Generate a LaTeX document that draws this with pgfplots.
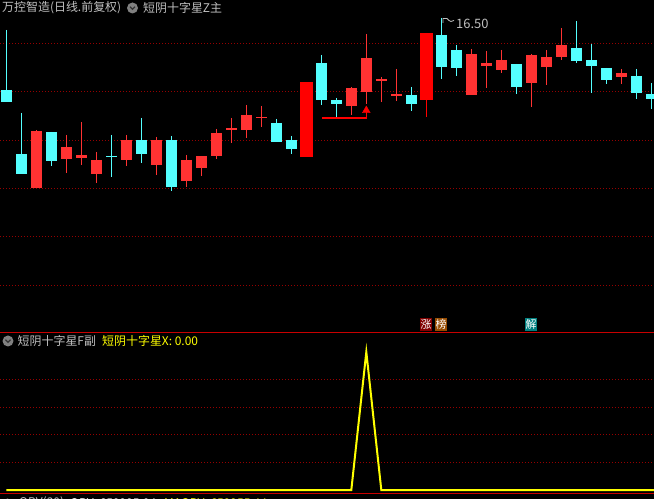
\documentclass[border=0pt]{standalone}
\usepackage{pgfplots}
\pgfplotsset{compat=1.18}
\usepackage{fontspec}
\newfontfamily\cjk{Noto Sans CJK SC}
\definecolor{upred}{RGB}{255,50,50}
\definecolor{limred}{RGB}{255,0,0}
\definecolor{dncyan}{RGB}{84,255,255}
\definecolor{gridred}{RGB}{150,0,0}
\definecolor{sepred}{RGB}{200,0,0}
\definecolor{txtgray}{RGB}{192,192,192}
\definecolor{iconbg}{RGB}{128,128,128}
\definecolor{tagred}{RGB}{128,0,0}
\definecolor{tagbrown}{RGB}{150,75,0}
\definecolor{tagteal}{RGB}{0,128,128}
\definecolor{sigyellow}{RGB}{255,255,0}
\begin{document}
\begin{tikzpicture}[x=1bp,y=1bp]
\fill[black] (0,0) rectangle (654,499);
% ---------------- main panel ----------------
\begin{axis}[at={(0bp,167bp)}, anchor=south west, scale only axis,
  width=654bp, height=332bp,
  xmin=-0.42, xmax=43.18, ymin=10.22, ymax=16.86,
  axis line style={draw=none}, tick style={draw=none}, xtick=\empty,
  ytick={11.15,12.12,13.09,14.05,15.02,15.99}, yticklabels={}, ymajorgrids,
  major grid style={draw=gridred, line width=1bp, dash pattern=on 1bp off 2bp},
  unbounded coords=jump, clip=true]
% cyan (down) wicks
\addplot[dncyan, line width=1bp] coordinates {
(0,16.26)(0,14.82)(0,nan)
(1,14.60)(1,13.38)(1,nan)
(3,14.22)(3,13.54)(3,nan)
(7,14.16)(7,13.32)(7,nan)
(9,14.50)(9,13.60)(9,nan)
(11,14.14)(11,13.04)(11,nan)
(18,14.48)(18,14.02)(18,nan)
(19,14.14)(19,13.78)(19,nan)
(21,15.76)(21,14.76)(21,nan)
(22,14.90)(22,14.50)(22,nan)
(27,15.12)(27,14.64)(27,nan)
(29,16.50)(29,15.28)(29,nan)
(30,15.96)(30,15.34)(30,nan)
(34,15.58)(34,14.98)(34,nan)
(38,16.44)(38,15.60)(38,nan)
(39,15.98)(39,15.00)(39,nan)
(40,15.50)(40,15.18)(40,nan)
(42,15.48)(42,14.88)(42,nan)
(43,15.20)(43,14.68)
};
% cyan bodies
\addplot[dncyan, line width=11bp] coordinates {
(0,15.06)(0,14.82)(0,nan)
(1,13.78)(1,13.38)(1,nan)
(3,14.22)(3,13.64)(3,nan)
(7,13.74)(7,13.72)(7,nan)
(9,14.06)(9,13.78)(9,nan)
(11,14.06)(11,13.12)(11,nan)
(18,14.40)(18,14.02)(18,nan)
(19,14.06)(19,13.88)(19,nan)
(21,15.60)(21,14.86)(21,nan)
(22,14.86)(22,14.78)(22,nan)
(27,14.96)(27,14.78)(27,nan)
(29,16.16)(29,15.52)(29,nan)
(30,15.86)(30,15.50)(30,nan)
(34,15.58)(34,15.12)(34,nan)
(38,15.90)(38,15.64)(38,nan)
(39,15.66)(39,15.54)(39,nan)
(40,15.50)(40,15.26)(40,nan)
(42,15.34)(42,15.00)(42,nan)
(43,14.98)(43,14.88)
};
% red (up) wicks
\addplot[upred, line width=1bp] coordinates {
(2,14.26)(2,13.10)(2,nan)
(4,14.16)(4,13.40)(4,nan)
(5,14.42)(5,13.56)(5,nan)
(6,13.82)(6,13.20)(6,nan)
(8,14.16)(8,13.54)(8,nan)
(10,14.12)(10,13.36)(10,nan)
(12,13.76)(12,13.12)(12,nan)
(13,13.74)(13,13.34)(13,nan)
(14,14.28)(14,13.68)(14,nan)
(15,14.50)(15,14.00)(15,nan)
(16,14.76)(16,14.10)(16,nan)
(17,14.74)(17,14.32)(17,nan)
(23,15.12)(23,14.56)(23,nan)
(24,16.18)(24,14.78)(24,nan)
(25,15.32)(25,14.82)(25,nan)
(26,15.48)(26,14.84)(26,nan)
(31,15.88)(31,14.96)(31,nan)
(32,15.84)(32,15.10)(32,nan)
(33,15.86)(33,15.40)(33,nan)
(35,15.78)(35,14.72)(35,nan)
(36,15.86)(36,15.16)(36,nan)
(37,16.30)(37,15.66)(37,nan)
(41,15.48)(41,15.18)
};
% red bodies
\addplot[upred, line width=11bp] coordinates {
(2,14.24)(2,13.10)(2,nan)
(4,13.92)(4,13.68)(4,nan)
(5,13.76)(5,13.70)(5,nan)
(6,13.66)(6,13.38)(6,nan)
(8,14.06)(8,13.66)(8,nan)
(10,14.06)(10,13.56)(10,nan)
(12,13.66)(12,13.24)(12,nan)
(13,13.74)(13,13.50)(13,nan)
(14,14.20)(14,13.74)(14,nan)
(15,14.30)(15,14.26)(15,nan)
(16,14.56)(16,14.26)(16,nan)
(17,14.52)(17,14.50)(17,nan)
(23,15.10)(23,14.74)(23,nan)
(24,15.70)(24,15.02)(24,nan)
(25,15.28)(25,15.24)(25,nan)
(26,14.98)(26,14.94)(26,nan)
(31,15.78)(31,14.96)(31,nan)
(32,15.60)(32,15.54)(32,nan)
(33,15.66)(33,15.46)(33,nan)
(35,15.76)(35,15.20)(35,nan)
(36,15.72)(36,15.52)(36,nan)
(37,15.96)(37,15.72)(37,nan)
(41,15.40)(41,15.32)
};
% limit-up candles
\addplot[limred, line width=1bp] coordinates {(28,16.20)(28,14.52)};
\addplot[limred, line width=13bp] coordinates {
(20,15.22)(20,13.72)(20,nan)
(28,16.20)(28,14.86)
};
% signal marker
\addplot[limred, line width=1.5bp] coordinates {(21.05,14.50)(24,14.50)(24,14.66)};
\addplot[limred, only marks, mark=triangle*, mark size=4.5bp] coordinates {(24,14.65)};
\end{axis}
% ---------------- sub panel ----------------
\begin{axis}[at={(0bp,6bp)}, anchor=south west, scale only axis,
  width=654bp, height=161bp,
  xmin=-0.42, xmax=43.18, ymin=-0.0217, ymax=1.1449,
  axis line style={draw=none}, tick style={draw=none}, xtick=\empty,
  ytick={0.2,0.4,0.6,0.8}, yticklabels={}, ymajorgrids,
  major grid style={draw=gridred, line width=1bp, dash pattern=on 1bp off 2bp},
  clip=true]
\addplot[sigyellow, line width=2bp] coordinates {
(0,0)(1,0)(2,0)(3,0)(4,0)(5,0)(6,0)(7,0)(8,0)(9,0)(10,0)(11,0)(12,0)(13,0)(14,0)
(15,0)(16,0)(17,0)(18,0)(19,0)(20,0)(21,0)(22,0)(23,0)(24,1)(25,0)(26,0)(27,0)
(28,0)(29,0)(30,0)(31,0)(32,0)(33,0)(34,0)(35,0)(36,0)(37,0)(38,0)(39,0)(40,0)
(41,0)(42,0)(43,0)(44,0)
};
\end{axis}
% separators
\draw[sepred, line width=1bp] (0,166.5) -- (654,166.5);
\draw[sepred, line width=1bp] (0,5.5) -- (654,5.5);
% header of main panel
\node[anchor=west, inner sep=0, text=txtgray, font=\cjk\fontsize{12}{12}\selectfont] at (2,491) {万控智造(日线.前复权)};
\fill[iconbg] (132.5,491) circle (5.5);
\draw[black!80, line width=1.2] (130,492.3) -- (132.5,489.8) -- (135,492.3);
\node[anchor=west, inner sep=0, text=txtgray, font=\cjk\fontsize{12}{12}\selectfont] at (143,491) {短阴十字星Z主};
% max price label
\draw[txtgray, line width=0.8] (443,476) -- (443,480.5) -- (447,480.5) -- (449,478.5) -- (451,477.5) -- (454,478.5);
\node[anchor=west, inner sep=0, text=txtgray, font=\cjk\fontsize{13}{13}\selectfont] at (456,475) {16.50};
% tags
\node[fill=tagred, text=white, inner sep=0, minimum width=12.5bp, minimum height=13bp, font=\cjk\fontsize{11}{11}\selectfont] at (426,174.5) {涨};
\node[fill=tagbrown, text=white, inner sep=0, minimum width=12.5bp, minimum height=13bp, font=\cjk\fontsize{11}{11}\selectfont] at (441,174.5) {榜};
\node[fill=tagteal, text=white, inner sep=0, minimum width=12.5bp, minimum height=13bp, font=\cjk\fontsize{11}{11}\selectfont] at (531,174.5) {解};
% header of sub panel
\fill[iconbg] (8,158) circle (5.5);
\draw[black!80, line width=1.2] (5.5,159.3) -- (8,156.8) -- (10.5,159.3);
\node[anchor=west, inner sep=0, text=txtgray, font=\cjk\fontsize{12}{12}\selectfont] at (17.5,158) {短阴十字星F副};
\node[anchor=west, inner sep=0, text=sigyellow, font=\cjk\fontsize{12}{12}\selectfont] at (102,158) {短阴十字星X: 0.00};
% next panel header (cut off)
\fill[iconbg] (7.5,-5) circle (5.5);
\node[anchor=west, inner sep=0, text=txtgray, font=\cjk\fontsize{12}{12}\selectfont] at (19,-4) {OBV(30)};
\node[anchor=west, inner sep=0, text=white, font=\cjk\fontsize{12}{12}\selectfont] at (70,-4) {OBV: 659995.04};
\node[anchor=west, inner sep=0, text=sigyellow, font=\cjk\fontsize{12}{12}\selectfont] at (164,-4) {MAOBV: 659955.44};
\pgfresetboundingbox
\useasboundingbox (0,0) rectangle (654,499);
\end{tikzpicture}
\end{document}
